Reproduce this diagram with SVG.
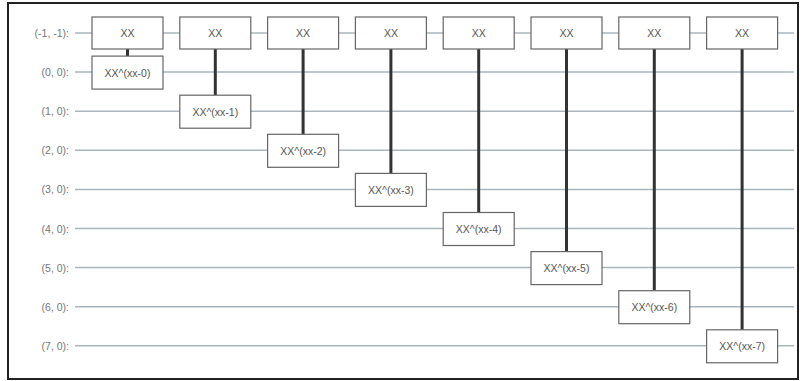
<svg xmlns="http://www.w3.org/2000/svg" width="803" height="381" viewBox="0 0 803 381">
<style>
.frame{fill:#fff;stroke:#222;stroke-width:2}
.wire{stroke:#aab6bd;stroke-width:1.5}
.box{fill:#fff;stroke:#666;stroke-width:1.2}
.lbl{font-family:"Liberation Sans",Arial,sans-serif;font-size:10.5px;fill:#777;text-anchor:end;dominant-baseline:central}
.gt{font-family:"Liberation Sans",Arial,sans-serif;font-size:10.5px;fill:#555;text-anchor:middle;dominant-baseline:central}
.conn{stroke:#333;stroke-width:3}
</style>
<rect class="frame" x="8" y="3" width="790" height="376"/>
<g id="wires">
<line class="wire" x1="75" y1="33" x2="794" y2="33"/>
<line class="wire" x1="75" y1="72.1" x2="794" y2="72.1"/>
<line class="wire" x1="75" y1="111.2" x2="794" y2="111.2"/>
<line class="wire" x1="75" y1="150.3" x2="794" y2="150.3"/>
<line class="wire" x1="75" y1="189.4" x2="794" y2="189.4"/>
<line class="wire" x1="75" y1="228.5" x2="794" y2="228.5"/>
<line class="wire" x1="75" y1="267.6" x2="794" y2="267.6"/>
<line class="wire" x1="75" y1="306.7" x2="794" y2="306.7"/>
<line class="wire" x1="75" y1="345.8" x2="794" y2="345.8"/>
</g>
<g id="labels">
<text class="lbl" x="69" y="33">(-1, -1): </text>
<text class="lbl" x="69" y="72.1">(0, 0): </text>
<text class="lbl" x="69" y="111.2">(1, 0): </text>
<text class="lbl" x="69" y="150.3">(2, 0): </text>
<text class="lbl" x="69" y="189.4">(3, 0): </text>
<text class="lbl" x="69" y="228.5">(4, 0): </text>
<text class="lbl" x="69" y="267.6">(5, 0): </text>
<text class="lbl" x="69" y="306.7">(6, 0): </text>
<text class="lbl" x="69" y="345.8">(7, 0): </text>
</g>
<g id="connectors">
<line class="conn" x1="127.5" y1="49" x2="127.5" y2="56"/>
<line class="conn" x1="215.3" y1="49" x2="215.3" y2="95"/>
<line class="conn" x1="303.1" y1="49" x2="303.1" y2="134"/>
<line class="conn" x1="390.9" y1="49" x2="390.9" y2="173"/>
<line class="conn" x1="478.7" y1="49" x2="478.7" y2="212"/>
<line class="conn" x1="566.5" y1="49" x2="566.5" y2="251"/>
<line class="conn" x1="654.3" y1="49" x2="654.3" y2="290"/>
<line class="conn" x1="742.1" y1="49" x2="742.1" y2="330"/>
</g>
<g id="xx0"><rect class="box" x="92" y="17" width="71" height="32"/><text class="gt" x="127.5" y="33">XX</text></g>
<g id="xx1"><rect class="box" x="179.8" y="17" width="71" height="32"/><text class="gt" x="215.3" y="33">XX</text></g>
<g id="xx2"><rect class="box" x="267.6" y="17" width="71" height="32"/><text class="gt" x="303.1" y="33">XX</text></g>
<g id="xx3"><rect class="box" x="355.4" y="17" width="71" height="32"/><text class="gt" x="390.9" y="33">XX</text></g>
<g id="xx4"><rect class="box" x="443.2" y="17" width="71" height="32"/><text class="gt" x="478.7" y="33">XX</text></g>
<g id="xx5"><rect class="box" x="531" y="17" width="71" height="32"/><text class="gt" x="566.5" y="33">XX</text></g>
<g id="xx6"><rect class="box" x="618.8" y="17" width="71" height="32"/><text class="gt" x="654.3" y="33">XX</text></g>
<g id="xx7"><rect class="box" x="706.6" y="17" width="71" height="32"/><text class="gt" x="742.1" y="33">XX</text></g>
<g id="p0"><rect class="box" x="92" y="56.1" width="71" height="33"/><text class="gt" x="127.5" y="72.6">XX^(xx-0)</text></g>
<g id="p1"><rect class="box" x="179.8" y="95.2" width="71" height="33"/><text class="gt" x="215.3" y="111.7">XX^(xx-1)</text></g>
<g id="p2"><rect class="box" x="267.6" y="134.3" width="71" height="33"/><text class="gt" x="303.1" y="150.8">XX^(xx-2)</text></g>
<g id="p3"><rect class="box" x="355.4" y="173.4" width="71" height="33"/><text class="gt" x="390.9" y="189.9">XX^(xx-3)</text></g>
<g id="p4"><rect class="box" x="443.2" y="212.5" width="71" height="33"/><text class="gt" x="478.7" y="229">XX^(xx-4)</text></g>
<g id="p5"><rect class="box" x="531" y="251.6" width="71" height="33"/><text class="gt" x="566.5" y="268.1">XX^(xx-5)</text></g>
<g id="p6"><rect class="box" x="618.8" y="290.7" width="71" height="33"/><text class="gt" x="654.3" y="307.2">XX^(xx-6)</text></g>
<g id="p7"><rect class="box" x="706.6" y="329.8" width="71" height="33"/><text class="gt" x="742.1" y="346.3">XX^(xx-7)</text></g>
</svg>
